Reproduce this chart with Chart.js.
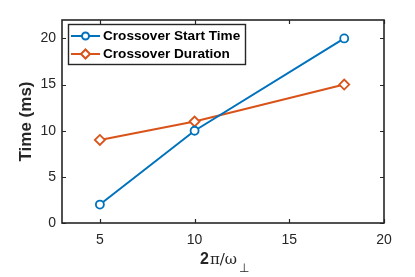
<!DOCTYPE html>
<html>
<head>
<meta charset="utf-8">
<script src="https://cdn.jsdelivr.net/npm/chart.js@4"></script>
<style>
  html,body{margin:0;padding:0;background:#fff;}
  #wrap{width:415px;height:277px;}
</style>
</head>
<body>
<div id="wrap"><canvas id="c" width="415" height="277"></canvas></div>
<script>
// data
const xValues = [5, 10, 17.9];
const startTime = [2, 10, 20];
const duration = [9, 11, 15];
const seriesNames = ["Crossover Start Time", "Crossover Duration"];
const xTicks = [5, 10, 15, 20];
const yTicks = [0, 5, 10, 15, 20];

const blue = "#0072BD";
const orange = "#D95319";
const axisCol = "#262626";
const sans = "Arial, 'Liberation Sans', sans-serif";

// inward ticks on all four sides, box, legend and x title
const boxTicks = {
  id: "boxTicks",
  afterDraw(chart){
    const {ctx, chartArea:a, scales} = chart;
    ctx.save();
    ctx.strokeStyle = axisCol;
    ctx.lineWidth = 1.2;
    xTicks.forEach(v=>{
      const x = Math.round(scales.x.getPixelForValue(v))+0.5;
      ctx.beginPath();
      ctx.moveTo(x, a.bottom); ctx.lineTo(x, a.bottom-4);
      ctx.moveTo(x, a.top); ctx.lineTo(x, a.top+4);
      ctx.stroke();
    });
    yTicks.forEach(v=>{
      const y = Math.round(scales.y.getPixelForValue(v))+0.5;
      ctx.beginPath();
      ctx.moveTo(a.left, y); ctx.lineTo(a.left+4, y);
      ctx.moveTo(a.right, y); ctx.lineTo(a.right-4, y);
      ctx.stroke();
    });
    ctx.lineWidth = 1.6;
    ctx.strokeRect(a.left, a.top, a.right-a.left, a.bottom-a.top);

    // legend
    const lx = 68, ly = 24, lw = 177, lh = 40;
    ctx.fillStyle = "#fff";
    ctx.fillRect(lx, ly, lw, lh);
    ctx.lineWidth = 1.4;
    ctx.strokeStyle = axisCol;
    ctx.strokeRect(lx+0.5, ly+0.5, lw, lh);
    const rows = [[blue, "circle"], [orange, "rectRot"]];
    ctx.font = "bold 13.6px " + sans;
    ctx.textBaseline = "middle";
    rows.forEach((r,i)=>{
      const y = ly + 12 + i*18;
      ctx.strokeStyle = r[0];
      ctx.lineWidth = 2;
      ctx.beginPath(); ctx.moveTo(lx+3, y); ctx.lineTo(lx+32, y); ctx.stroke();
      ctx.fillStyle = "#fff";
      Chart.helpers.drawPoint(ctx, {pointStyle:r[1], radius:r[1]==="circle"?3.5:4.5, borderWidth:1.8}, lx+17.5, y);
      ctx.fillStyle = "#000";
      ctx.fillText(seriesNames[i], lx+35, y+0.5);
    });

    // x title: 2π/ω⊥
    ctx.fillStyle = axisCol;
    ctx.textBaseline = "alphabetic";
    const cx = 222, by = 264;
    const p1 = "2", p2 = "\u03C0/\u03C9";
    ctx.font = "bold 16px " + sans;
    const w1 = ctx.measureText(p1).width;
    ctx.font = "15px 'DejaVu Serif', serif";
    const w2 = ctx.measureText(p2).width;
    const start = cx - (w1 + w2 + 8)/2;
    ctx.font = "bold 16px " + sans;
    ctx.fillText(p1, start, by);
    ctx.font = "15px 'DejaVu Serif', serif";
    ctx.fillText(p2, start + w1 + 1, by);
    ctx.font = "12px 'DejaVu Sans', sans-serif";
    ctx.fillText("\u22A5", start + w1 + w2 + 3, by + 8);
    ctx.restore();
  }
};

new Chart(document.getElementById("c"), {
  type: "line",
  data: {
    datasets: [
      {
        label: seriesNames[0],
        data: xValues.map((x,i)=>({x, y:startTime[i]})),
        borderColor: blue,
        backgroundColor: "#fff",
        borderWidth: 2,
        pointStyle: "circle",
        pointRadius: 4,
        pointBorderWidth: 1.8
      },
      {
        label: seriesNames[1],
        data: xValues.map((x,i)=>({x, y:duration[i]})),
        borderColor: orange,
        backgroundColor: "#fff",
        borderWidth: 2,
        pointStyle: "rectRot",
        pointRadius: 5,
        pointBorderWidth: 1.8
      }
    ]
  },
  options: {
    responsive: false,
    animation: false,
    layout: {padding: {left: 16, top: 20, right: 31, bottom: 0}},
    plugins: {legend: {display: false}, tooltip: {enabled: false}},
    scales: {
      x: {
        type: "linear",
        min: 3, max: 20,
        afterBuildTicks(s){ s.ticks = xTicks.map(v=>({value:v})); },
        afterFit(s){ s.height = 54; },
        grid: {display: false, drawTicks: false},
        border: {display: false},
        ticks: {color: axisCol, padding: 9, font: {size: 14, family: sans}}
      },
      y: {
        min: 0, max: 22,
        afterBuildTicks(s){ s.ticks = yTicks.map(v=>({value:v})); },
        afterFit(s){ s.width = 46; },
        grid: {display: false, drawTicks: false},
        border: {display: false},
        title: {display: true, text: "Time (ms)", color: axisCol, padding: {top: 0, bottom: 0},
                font: {size: 17, weight: "bold", family: sans}},
        ticks: {color: axisCol, padding: 6, font: {size: 14, family: sans}}
      }
    }
  },
  plugins: [boxTicks]
});
</script>
</body>
</html>
